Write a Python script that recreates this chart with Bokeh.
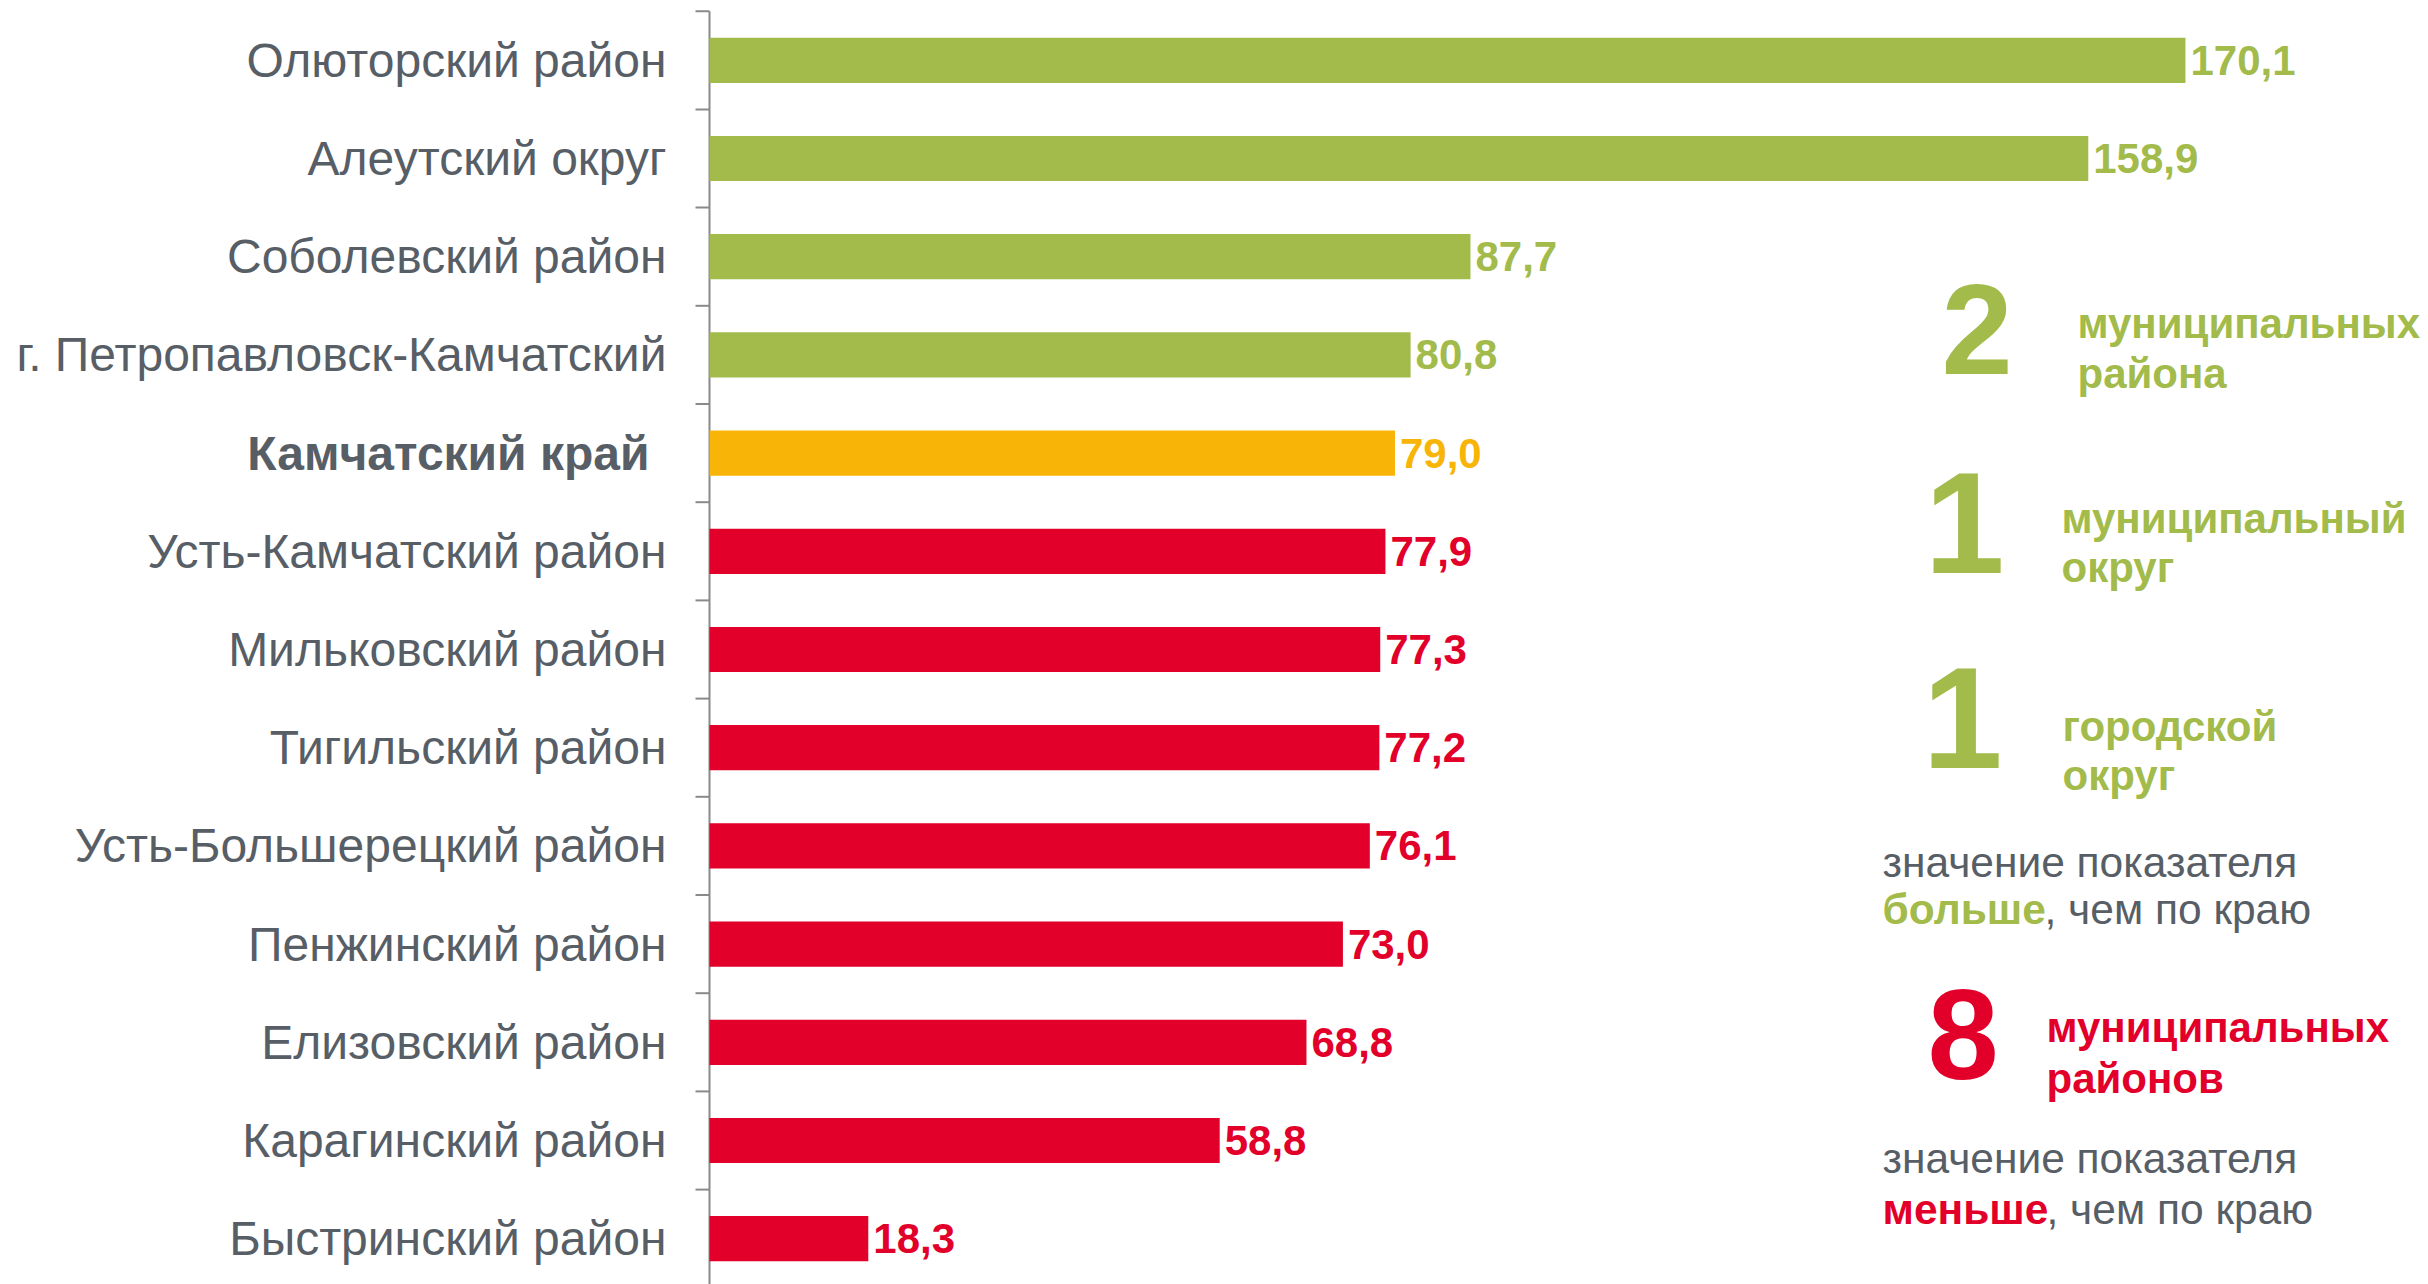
from bokeh.plotting import figure
from bokeh.models import ColumnDataSource, LabelSet, Label, Range1d
from bokeh.core.properties import value
from bokeh.embed import file_html
from bokeh.resources import INLINE

# ---- data ----
categories = [
    "Олюторский район",
    "Алеутский округ",
    "Соболевский район",
    "г. Петропавловск-Камчатский",
    "Камчатский край",
    "Усть-Камчатский район",
    "Мильковский район",
    "Тигильский район",
    "Усть-Большерецкий район",
    "Пенжинский район",
    "Елизовский район",
    "Карагинский район",
    "Быстринский район",
]
values = [170.1, 158.9, 87.7, 80.8, 79.0, 77.9, 77.3, 77.2, 76.1, 73.0, 68.8, 58.8, 18.3]
value_labels = ["170,1", "158,9", "87,7", "80,8", "79,0", "77,9", "77,3", "77,2",
                "76,1", "73,0", "68,8", "58,8", "18,3"]
groups = ["above", "above", "above", "above", "region",
          "below", "below", "below", "below", "below", "below", "below", "below"]

GREEN = "#a2bb4a"
YELLOW = "#f8b508"
RED = "#e2002b"
GREY = "#575e66"
AXIS = "#8a8a8a"
palette = {"above": GREEN, "region": YELLOW, "below": RED}

FONT_NAME = "Liberation Sans"
FONT = value(FONT_NAME)

idx = list(range(len(categories)))
colors = [palette[g] for g in groups]
n = len(categories)

src = ColumnDataSource(dict(idx=idx, category=categories, value=values,
                            label=value_labels, color=colors))
normal_rows = [i for i, g in enumerate(groups) if g != "region"]
bold_rows = [i for i, g in enumerate(groups) if g == "region"]
src_normal = ColumnDataSource(dict(idx=[idx[i] for i in normal_rows],
                                   category=[categories[i] for i in normal_rows]))
src_bold = ColumnDataSource(dict(idx=[idx[i] for i in bold_rows],
                                 category=[categories[i] for i in bold_rows]))

# ---- layout (pixels) ----
W, H = 2428, 1284
X0_PX = 709          # where value 0 sits
PX_PER_UNIT = 8.677
BAND = 98.2
TOP_PAD = 10.7
TICK_LEN = 14
y_top = -0.5 - TOP_PAD / BAND
y_bottom = y_top + H / BAND

p = figure(width=W, height=H, output_backend="svg", toolbar_location=None,
           x_range=Range1d(-X0_PX / PX_PER_UNIT, (W - X0_PX) / PX_PER_UNIT),
           y_range=Range1d(y_bottom, y_top),
           min_border=0, x_axis_location=None, y_axis_location=None,
           outline_line_color=None, background_fill_color="white",
           border_fill_color="white")
p.xgrid.visible = False
p.ygrid.visible = False

# axis line and category boundary ticks
p.segment(x0=0, x1=0, y0=-0.5, y1=n - 0.5, line_color=AXIS, line_width=2)
bounds = [i - 0.5 for i in range(n + 1)]
p.segment(x0=[-TICK_LEN / PX_PER_UNIT] * len(bounds), x1=[0] * len(bounds),
          y0=bounds, y1=bounds, line_color=AXIS, line_width=2)

p.hbar(y="idx", left=0, right="value", height=0.46, fill_color="color",
       line_color=None, source=src)

# category labels
p.add_layout(LabelSet(x=0, y="idx", text="category", source=src_normal,
                      x_offset=-43, text_align="right", text_baseline="middle",
                      text_font=FONT, text_font_size="48px", text_color=GREY))
p.add_layout(LabelSet(x=0, y="idx", text="category", source=src_bold,
                      x_offset=-60, text_align="right", text_baseline="middle",
                      text_font=FONT, text_font_size="48px", text_font_style="bold",
                      text_color=GREY))

# value labels
p.add_layout(LabelSet(x="value", y="idx", text="label", source=src,
                      x_offset=5, text_align="left", text_baseline="middle",
                      text_font=FONT, text_font_size="42px", text_font_style="bold",
                      text_color="color"))


# ---- right-hand annotations (page pixel positions of the text baseline) ----
def note(txt, x, y, size, color, bold=True):
    # shift compensates for how the renderer places an alphabetic baseline
    p.add_layout(Label(x=x, y=H - y + 0.34 * size, x_units="screen", y_units="screen",
                       text=txt, text_font=FONT_NAME, text_font_size=f"{size}px",
                       text_font_style="bold" if bold else "normal",
                       text_color=color, text_align="left",
                       text_baseline="alphabetic"))


note("2", 1941, 373, 128, GREEN)
note("муниципальных", 2077, 337, 42, GREEN)
note("района", 2077, 387, 42, GREEN)

note("1", 1924, 571, 144, GREEN)
note("муниципальный", 2061, 532, 42, GREEN)
note("округ", 2061, 581, 42, GREEN)

note("1", 1922, 766, 144, GREEN)
note("городской", 2062, 740, 42, GREEN)
note("округ", 2062, 789, 42, GREEN)

note("значение показателя", 1882, 876, 42.5, GREY, bold=False)
note("больше", 1882, 923, 42.5, GREEN)
note(", чем по краю", 2044, 923, 42.5, GREY, bold=False)

note("8", 1927, 1078, 128, RED)
note("муниципальных", 2046, 1041, 42, RED)
note("районов", 2046, 1092, 42, RED)

note("значение показателя", 1882, 1172, 42.5, GREY, bold=False)
note("меньше", 1882, 1223, 42.5, RED)
note(", чем по краю", 2046, 1223, 42.5, GREY, bold=False)

open("out.html", "w").write(file_html(p, INLINE))
